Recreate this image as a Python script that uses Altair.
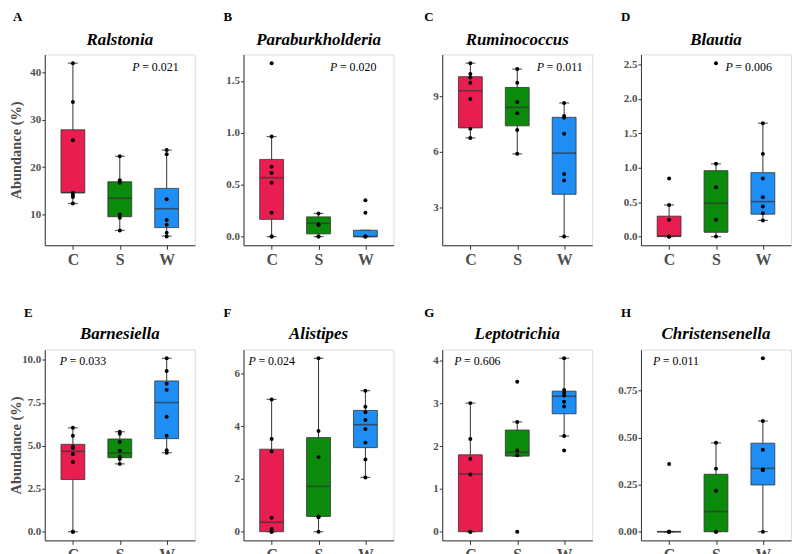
import altair as alt
import pandas as pd

groups = ["C", "S", "W"]
group_colors = ["#E91E50", "#0B8A0B", "#1E8EF5"]

species = ["Ralstonia", "Paraburkholderia", "Ruminococcus", "Blautia",
           "Barnesiella", "Alistipes", "Leptotrichia", "Christensenella"]
letters = ["A", "B", "C", "D", "E", "F", "G", "H"]
p_values = ["0.021", "0.020", "0.011", "0.006", "0.033", "0.024", "0.606", "0.011"]

# raw points per group (abundance %)
ralstonia_pts = {"C": [42.0, 33.8, 25.7, 14.6, 14.1, 13.7, 12.3],
                 "S": [22.3, 17.2, 16.7, 10.0, 9.3, 6.6],
                 "W": [23.6, 22.7, 13.2, 8.8, 7.8, 6.1, 5.3]}
paraburk_pts = {"C": [1.672, 0.964, 0.673, 0.613, 0.520, 0.230, 0.0, 0.0],
                "S": [0.223, 0.118, 0.112, 0.0, 0.0],
                "W": [0.351, 0.230, 0.0, 0.0, 0.0]}
rumino_pts = {"C": [10.79, 10.20, 10.02, 9.73, 8.86, 7.26, 6.76],
              "S": [10.47, 9.73, 8.70, 8.09, 7.19, 5.90],
              "W": [8.64, 7.94, 7.84, 6.98, 4.81, 4.47, 1.44]}
blautia_pts = {"C": [0.843, 0.46, 0.244, 0.0, 0.0, 0.0],
               "S": [2.52, 1.058, 0.718, 0.244, 0.0],
               "W": [1.648, 1.202, 0.843, 0.57, 0.436, 0.34, 0.235]}
barnes_pts = {"C": [6.05, 5.59, 4.95, 4.87, 4.53, 4.06, 0.0, 0.0],
              "S": [5.82, 5.71, 5.22, 4.72, 4.37, 4.24, 3.95],
              "W": [10.10, 9.36, 8.61, 8.26, 6.69, 5.59, 4.74, 4.60]}
alistipes_pts = {"C": [5.02, 3.52, 3.04, 0.53, 0.10, 0.0, 0.0],
                 "S": [6.58, 3.82, 2.83, 0.58, 0.55, 0.0],
                 "W": [5.35, 4.74, 4.53, 4.24, 3.90, 3.38, 2.74, 2.06]}
lepto_pts = {"C": [3.01, 2.17, 1.71, 1.34, 0.0, 0.0],
             "S": [3.51, 2.57, 1.90, 1.79, 0.0],
             "W": [4.06, 3.32, 3.25, 3.19, 3.04, 2.93, 2.24, 1.90]}
christ_pts = {"C": [0.359, 0.0, 0.0, 0.0],
              "S": [0.472, 0.335, 0.218, 0.0, 0.0],
              "W": [0.921, 0.588, 0.435, 0.331, 0.326, 0.0]}

# box stats per group: [lower whisker, q1, median, q3, upper whisker]
ralstonia_box = {"C": [12.3, 14.6, 14.6, 27.9, 42.0],
                 "S": [6.6, 9.5, 13.4, 16.9, 22.3],
                 "W": [5.4, 7.2, 11.2, 15.5, 23.6]}
paraburk_box = {"C": [0.0, 0.166, 0.568, 0.744, 0.964],
                "S": [0.0, 0.026, 0.128, 0.19, 0.223],
                "W": [0.0, 0.0, 0.0, 0.061, 0.061]}
rumino_box = {"C": [6.76, 7.30, 9.30, 10.06, 10.79],
              "S": [5.90, 7.41, 8.41, 9.48, 10.47],
              "W": [1.44, 3.72, 5.94, 7.87, 8.64]}
blautia_box = {"C": [0.0, 0.0, 0.01, 0.297, 0.46],
               "S": [0.0, 0.062, 0.484, 0.958, 1.058],
               "W": [0.235, 0.326, 0.508, 0.929, 1.648]}
barnes_box = {"C": [0.0, 3.04, 4.68, 5.09, 6.05],
              "S": [3.95, 4.31, 4.58, 5.40, 5.82],
              "W": [4.60, 5.42, 7.52, 8.78, 10.10]}
alistipes_box = {"C": [0.0, 0.0, 0.36, 3.13, 5.02],
                 "S": [0.0, 0.58, 1.72, 3.57, 6.58],
                 "W": [2.06, 3.19, 4.06, 4.60, 5.35]}
lepto_box = {"C": [0.0, 0.0, 1.35, 1.80, 3.01],
             "S": [1.77, 1.77, 1.86, 2.38, 2.57],
             "W": [2.24, 2.76, 3.17, 3.29, 4.06]}
christ_box = {"C": [0.0, 0.0, 0.0, 0.0, 0.0],
              "S": [0.0, 0.0, 0.107, 0.305, 0.472],
              "W": [0.0, 0.248, 0.336, 0.470, 0.588]}

points_all = [ralstonia_pts, paraburk_pts, rumino_pts, blautia_pts,
              barnes_pts, alistipes_pts, lepto_pts, christ_pts]
boxes_all = [ralstonia_box, paraburk_box, rumino_box, blautia_box,
             barnes_box, alistipes_box, lepto_box, christ_box]

y_ticks = [[10, 20, 30, 40], [0, 0.5, 1.0, 1.5], [3, 6, 9], [0, 0.5, 1.0, 1.5, 2.0, 2.5],
           [0, 2.5, 5.0, 7.5, 10.0], [0, 2, 4, 6], [0, 1, 2, 3, 4], [0, 0.25, 0.5, 0.75]]
y_formats = ["d", ".1f", "d", ".1f", ".1f", "d", "d", ".2f"]

# annotation placement (pixels inside each panel)
p_x = [88, 87, 95, 85, 15, 5, 12, 12]
p_y = [13, 13, 13, 13, 12, 12, 12, 12]
letter_x = [-32, -20, -18, -20, -21, -20, -18, -20]
letter_y = [-34, -34, -34, -34, -33, -33, -33, -33]
title_y = [-10, -10, -10, -10, -11, -11, -11, -11]

SERIF = "Liberation Serif"
GRAY = "#4D4D4D"
PW, PH = 151, 192


def text_layer(s, x, y, **kw):
    return alt.Chart(pd.DataFrame({"t": [s]})).mark_text(font=SERIF, color="black", **kw).encode(
        x=alt.value(x), y=alt.value(y), text="t:N")


def panel(i):
    pts = points_all[i]
    box = boxes_all[i]
    df_pts = pd.DataFrame([{"group": g, "value": v} for g in groups for v in pts[g]])
    df_box = pd.DataFrame([{"group": g, "lo": box[g][0], "q1": box[g][1], "med": box[g][2],
                            "q3": box[g][3], "hi": box[g][4]} for g in groups])
    vals = list(df_pts["value"]) + list(df_box["lo"]) + list(df_box["hi"])
    vmin, vmax = min(vals), max(vals)
    r = vmax - vmin
    yscale = alt.Scale(domain=[vmin - 0.05 * r, vmax + 0.05 * r], nice=False, zero=False)
    ytitle = "Abundance (%)" if i in (0, 4) else None
    yaxis = alt.Axis(values=y_ticks[i], format=y_formats[i], title=ytitle, grid=False,
                     labelFont=SERIF, labelFontWeight="bold", labelFontSize=11,
                     labelColor=GRAY, labelPadding=1, tickSize=3, tickColor="#333",
                     domainColor="#333", titleFont=SERIF, titleFontWeight="bold",
                     titleFontSize=14.5, titleColor=GRAY, titlePadding=0,
                     minExtent=21, maxExtent=21)
    xaxis = alt.Axis(title=None, labelAngle=0, labelFont=SERIF, labelFontWeight="bold",
                     labelFontSize=16, labelColor=GRAY, labelPadding=2, tickSize=4,
                     tickColor="#333", domainColor="#333", grid=False)
    xenc = alt.X("group:N", scale=alt.Scale(domain=groups, type="point", padding=0.6), axis=xaxis)

    base = alt.Chart(df_box)
    whisk = base.mark_rule(color="#333", strokeWidth=1).encode(
        x=xenc, y=alt.Y("lo:Q", scale=yscale, axis=yaxis), y2="hi:Q")
    cap_lo = base.mark_tick(orient="horizontal", size=10, thickness=1.2, color="#222").encode(
        x=xenc, y=alt.Y("lo:Q", scale=yscale, axis=yaxis))
    cap_hi = base.mark_tick(orient="horizontal", size=10, thickness=1.2, color="#222").encode(
        x=xenc, y=alt.Y("hi:Q", scale=yscale, axis=yaxis))
    boxes = base.mark_bar(size=24, stroke="#333", strokeWidth=0.8, opacity=1).encode(
        x=xenc, y=alt.Y("q1:Q", scale=yscale, axis=yaxis), y2="q3:Q",
        color=alt.Color("group:N", scale=alt.Scale(domain=groups, range=group_colors), legend=None))
    med = base.mark_tick(orient="horizontal", size=24, thickness=1.6, color="#333").encode(
        x=xenc, y=alt.Y("med:Q", scale=yscale, axis=yaxis))
    dots = alt.Chart(df_pts).mark_circle(size=16, color="black", opacity=1).encode(
        x=xenc, y=alt.Y("value:Q", scale=yscale, axis=yaxis))

    p_it = text_layer("P", p_x[i], p_y[i], align="left", baseline="middle",
                      fontStyle="italic", fontSize=12)
    p_txt = text_layer("= " + p_values[i], p_x[i] + 10, p_y[i], align="left",
                       baseline="middle", fontSize=12)
    letter = text_layer(letters[i], letter_x[i], letter_y[i], align="left",
                        baseline="alphabetic", fontWeight="bold", fontSize=13)
    title = text_layer(species[i], PW / 2, title_y[i], align="center", baseline="alphabetic",
                       fontWeight="bold", fontStyle="italic", fontSize=17)

    return alt.layer(whisk, cap_lo, cap_hi, boxes, med, dots, p_it, p_txt, letter, title).properties(
        width=PW, height=PH)


panels = [panel(i) for i in range(8)]
chart = alt.concat(*panels, columns=4, spacing={"row": 105, "column": 49}, bounds="flush").properties(
    padding={"left": 0, "top": 0, "right": 0, "bottom": 0}
).configure_view(stroke="#777", strokeWidth=1).configure(background="white")

chart.save("out.html", embed_options={"renderer": "svg", "actions": False})
